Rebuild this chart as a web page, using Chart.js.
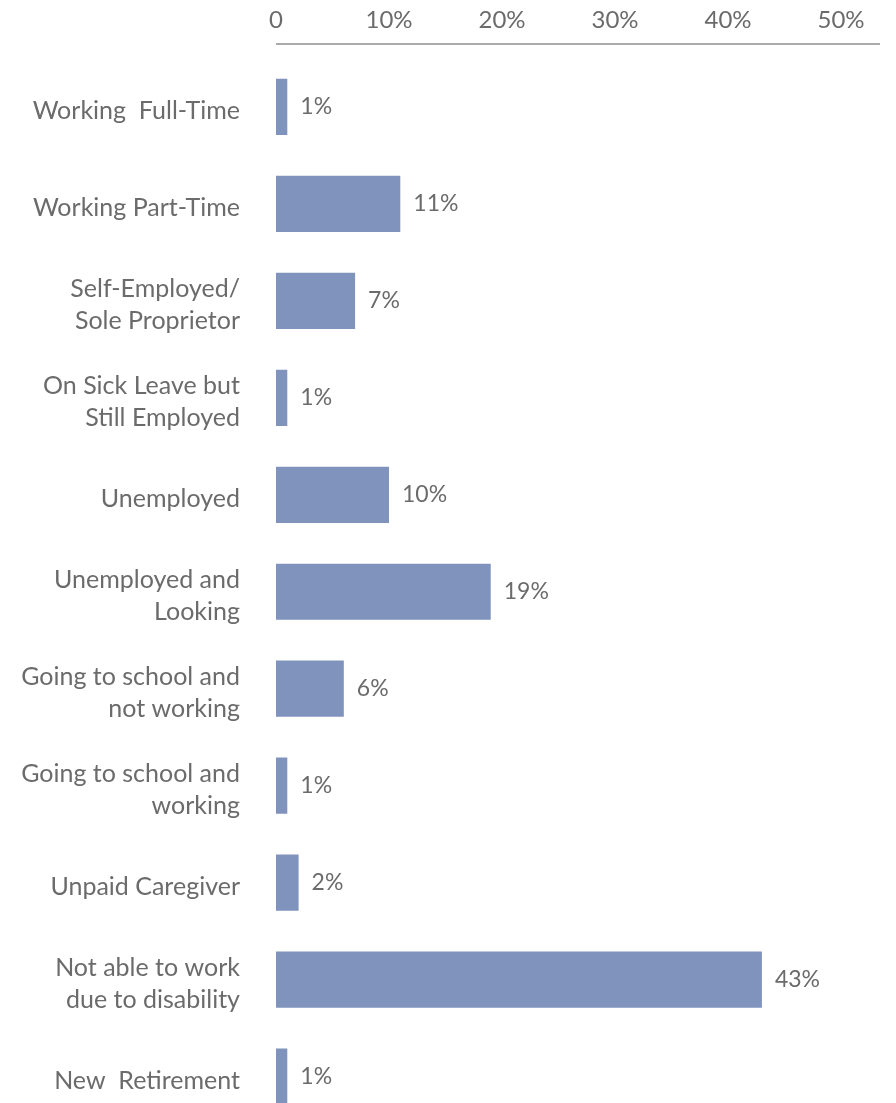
<!DOCTYPE html>
<html>
<head>
<meta charset="utf-8">
<script src="https://cdn.jsdelivr.net/npm/chart.js@4/dist/chart.umd.min.js"></script>
<style>
  html, body { margin: 0; padding: 0; background: #fff; overflow: hidden; }
  #wrap { width: 896px; height: 1177px; }
</style>
</head>
<body>
<div id="wrap"><canvas id="statusChart"></canvas></div>
<script>
// Employment status of respondents (% of total)
const categories = [
    'Working  Full-Time',
    'Working Part-Time',
    ['Self-Employed/', 'Sole Proprietor'],
    ['On Sick Leave but', 'Still Employed'],
    'Unemployed',
    ['Unemployed and', 'Looking'],
    ['Going to school and', 'not working'],
    ['Going to school and', 'working'],
    'Unpaid Caregiver',
    ['Not able to work', 'due to disability'],
    'New  Retirement'
];
const shares = [1, 11, 7, 1, 10, 19, 6, 1, 2, 43, 1];
const tickValues = [0, 10, 20, 30, 40, 50];

const textColor = '#6b6b6b';
const barColor = '#7f93bd';
const fontFamily = 'Lato, "Noto Sans", sans-serif';

// percentage next to each bar
const valueLabels = {
    id: 'valueLabels',
    afterDatasetsDraw(chart) {
        const ctx = chart.ctx;
        const meta = chart.getDatasetMeta(0);
        ctx.save();
        ctx.fillStyle = textColor;
        ctx.font = '23px ' + fontFamily;
        ctx.textAlign = 'left';
        ctx.textBaseline = 'middle';
        meta.data.forEach((bar, i) => {
            ctx.fillText(shares[i] + '%', bar.x + 13, bar.y);
        });
        ctx.restore();
    }
};

// axis rule sits a little above the plot area
const topRule = {
    id: 'topRule',
    afterDraw(chart) {
        const { ctx, chartArea } = chart;
        ctx.save();
        ctx.strokeStyle = '#8f8f8f';
        ctx.lineWidth = 1.5;
        ctx.beginPath();
        ctx.moveTo(chartArea.left, 44);
        ctx.lineTo(chartArea.right, 44);
        ctx.stroke();
        ctx.restore();
    }
};

const ctx = document.getElementById('statusChart').getContext('2d');
const statusChart = new Chart(ctx, {
    type: 'bar',
    data: {
        labels: categories,
        datasets: [{
            data: shares,
            backgroundColor: barColor,
            borderWidth: 0,
            barPercentage: 0.58,
            categoryPercentage: 1
        }]
    },
    options: {
        indexAxis: 'y',
        responsive: true,
        maintainAspectRatio: false,
        animation: false,
        layout: { padding: { left: 0, right: 16, top: 0, bottom: 0 } },
        plugins: {
            legend: { display: false },
            tooltip: { enabled: false }
        },
        scales: {
            x: {
                position: 'top',
                min: 0,
                max: 53.45,
                grid: { display: false, drawTicks: false },
                border: { display: false },
                afterFit(scale) { scale.height = 58.5; },
                afterBuildTicks(scale) {
                    scale.ticks = tickValues.map(v => ({ value: v }));
                },
                ticks: {
                    padding: 24,
                    color: textColor,
                    font: { family: fontFamily, size: 24 },
                    callback: v => v === 0 ? '0' : v + '%'
                }
            },
            y: {
                grid: { display: false, drawTicks: false },
                border: { display: false },
                afterFit(scale) { scale.width = 276; },
                ticks: {
                    padding: 36,
                    labelOffset: 4,
                    color: textColor,
                    font: { family: fontFamily, size: 25, lineHeight: 1.28 }
                }
            }
        }
    },
    plugins: [valueLabels, topRule]
});
</script>
</body>
</html>
